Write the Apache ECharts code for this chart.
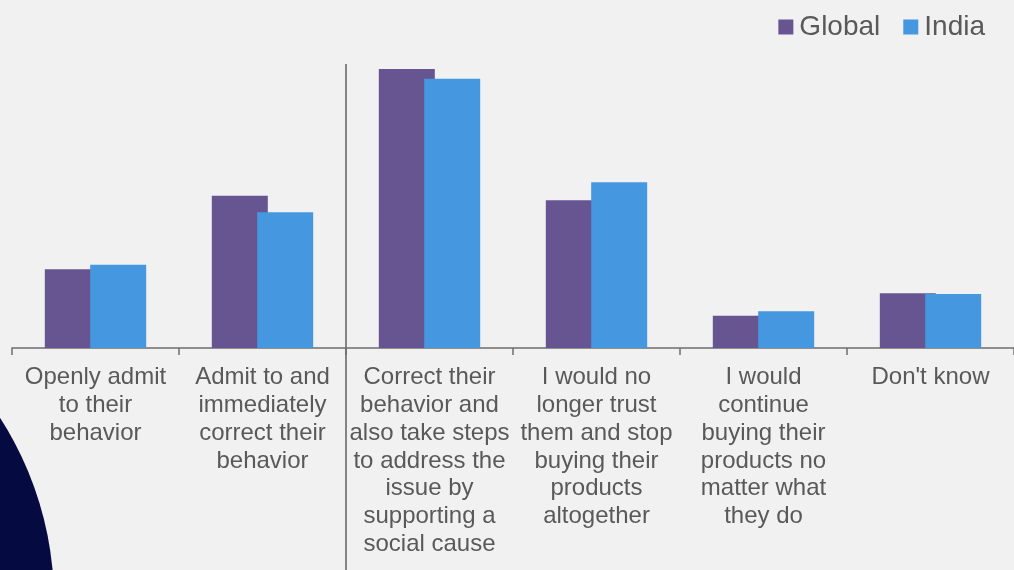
<!DOCTYPE html>
<html>
<head>
<meta charset="utf-8">
<script src="https://cdn.jsdelivr.net/npm/echarts@6/dist/echarts.min.js"></script>
<style>
  html, body { margin: 0; padding: 0; background: #f1f1f1; }
  #chart { width: 1014px; height: 570px; }
</style>
</head>
<body>
<div id="chart"></div>
<script>
// Responses: how brands should react after bad behaviour (%)
const categories = [
  'Openly admit\nto their\nbehavior',
  'Admit to and\nimmediately\ncorrect their\nbehavior',
  'Correct their\nbehavior and\nalso take steps\nto address the\nissue by\nsupporting a\nsocial cause',
  'I would no\nlonger trust\nthem and stop\nbuying their\nproducts\naltogether',
  'I would\ncontinue\nbuying their\nproducts no\nmatter what\nthey do',
  "Don't know"
];
const globalValues = [10.5, 20.3, 37.2, 19.7, 4.3, 7.3];
const indiaValues  = [11.1, 18.1, 35.9, 22.1, 4.9, 7.2];

const FONT = '"Liberation Sans", Arial, sans-serif';
const TEXT = '#595959';

const chart = echarts.init(document.getElementById('chart'), null, { renderer: 'canvas' });

chart.setOption({
  backgroundColor: '#f1f1f1',
  animation: false,
  textStyle: { fontFamily: FONT },
  legend: {
    right: 24,
    top: 8,
    icon: 'rect',
    itemWidth: 15,
    itemHeight: 15,
    itemGap: 23,
    textStyle: { fontSize: 28, color: TEXT, fontFamily: FONT, padding: [0, 0, 0, 1] },
    data: ['Global', 'India']
  },
  grid: { left: 12, right: 0, top: 48, bottom: 222, containLabel: false },
  xAxis: {
    type: 'category',
    data: categories,
    boundaryGap: true,
    axisLine: { lineStyle: { color: '#6e6e6e', width: 1.5 } },
    axisTick: { show: true, length: 7, lineStyle: { color: '#6e6e6e', width: 1.5 } },
    axisLabel: {
      interval: 0,
      margin: 16,
      fontSize: 24,
      lineHeight: 27.7,
      color: TEXT,
      fontFamily: FONT,
      align: 'center'
    }
  },
  yAxis: {
    type: 'value',
    min: 0,
    max: 40,
    show: false,
    splitLine: { show: false }
  },
  series: [
    {
      name: 'Global',
      type: 'bar',
      data: globalValues,
      barWidth: 56,
      barGap: '-19%',
      itemStyle: { color: '#675591' }
    },
    {
      name: 'India',
      type: 'bar',
      data: indiaValues,
      barWidth: 56,
      barGap: '-19%',
      itemStyle: { color: '#4597e0' }
    }
  ]
});

// Divider between the "admit" group and the remaining responses, plus the decorative disc
const c1 = chart.convertToPixel({ xAxisIndex: 0 }, 1);
const c2 = chart.convertToPixel({ xAxisIndex: 0 }, 2);
const dividerX = Math.round((c1 + c2) / 2);

chart.setOption({
  graphic: [
    {
      type: 'circle',
      z: -1,
      silent: true,
      shape: { cx: -284, cy: 601, r: 338 },
      style: { fill: '#050a40' }
    },
    {
      type: 'line',
      silent: true,
      shape: { x1: dividerX, y1: 64, x2: dividerX, y2: 570 },
      style: { stroke: '#5f5f5f', lineWidth: 1.5 }
    }
  ]
});
</script>
</body>
</html>
